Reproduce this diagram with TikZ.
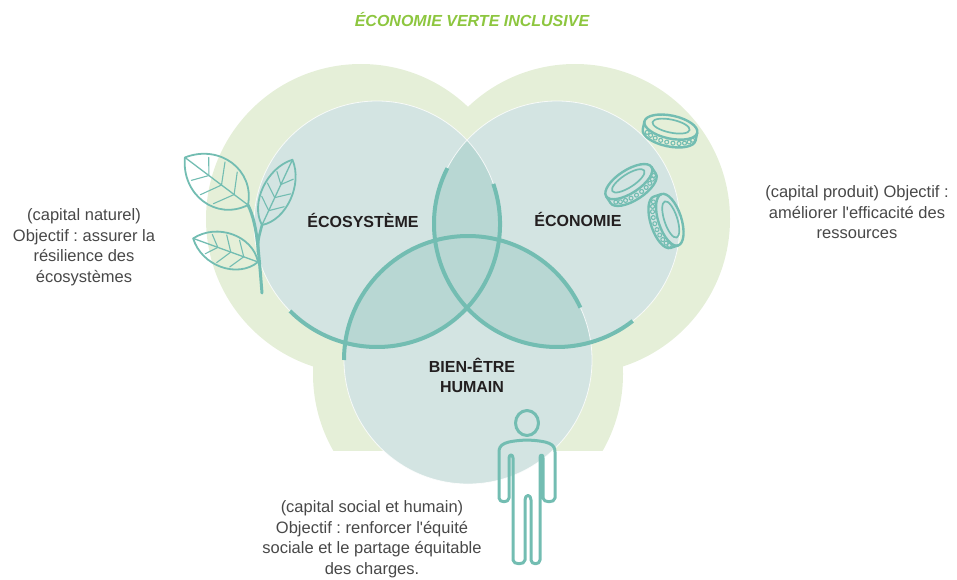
\documentclass[tikz,border=0pt]{standalone}
\usepackage{fontspec}
\setmainfont{Liberation Sans}[Ligatures=TeXOff]
\frenchspacing
\definecolor{bggreen}{HTML}{E5EFD8}
\definecolor{venncol}{HTML}{D3E4E2}
\definecolor{venntwo}{HTML}{B8D7D3}
\definecolor{vennthree}{HTML}{A6CFCA}
\definecolor{arcteal}{HTML}{73BDB2}
\definecolor{titlegreen}{HTML}{8DC63F}
\definecolor{labeltext}{HTML}{231F20}
\definecolor{bodytext}{HTML}{484848}
\tikzset{
  rim/.style={draw=arcteal, line width=4pt},
  sketch/.style={draw=arcteal, line width=2.4pt, line cap=round, line join=round},
  biglabel/.style={font=\bfseries\fontsize{16}{20}\selectfont, text=labeltext, align=center, inner sep=0pt},
  note/.style={font=\fontsize{16.5}{20.5}\selectfont, text=bodytext, align=center},
  heading/.style={font=\bfseries\itshape\fontsize{16}{20}\selectfont, text=titlegreen},
  % leaf: length, half width
  pics/leaf/.style n args={2}{code={
    \draw[sketch, line width=1.8pt] (0,0) .. controls (0.2*#1,-#2) and (0.75*#1,-#2) .. (#1,0)
      .. controls (0.75*#1,#2) and (0.2*#1,#2) .. (0,0);
    \draw[sketch, line width=1.3pt] (0,0) -- (#1,0);
    \foreach \t/\h in {0.22/0.62,0.42/0.64,0.62/0.45}
      \draw[sketch, line width=1.1pt] (\t*#1,0) -- ++(0.14*#1,-\h*#2)
        (\t*#1,0) -- ++(0.14*#1,\h*#2);
  }},
  pics/coin/.style={code={
    \draw[sketch] (-27,-4) -- (-27,4) arc[start angle=180, end angle=0, x radius=27, y radius=11.5] -- (27,-4);
    \draw[sketch] (0,-4) ellipse[x radius=27, y radius=11.5];
    \draw[sketch, line width=1.7pt] (0,-5) ellipse[x radius=19, y radius=6.5];
    \foreach \a in {22,36,...,160}
      \draw[sketch, line width=1.1pt] ({26*cos(\a)},{11.5*sin(\a)}) circle[radius=2];
  }}
}

\begin{document}
\begin{tikzpicture}[x=1pt,y=-1pt]
  \useasboundingbox (0,0) rectangle (957,580);

  \newcommand\R{123}
  \newcommand\Rb{124}

  % green background
  \fill[bggreen] (361,219) circle[radius=155] (575,219) circle[radius=155];
  \begin{scope}
    \clip (0,0) rectangle (957,450);
    \fill[bggreen] (468,374) circle[radius=155];
  \end{scope}

  \coordinate (eco) at (377,224);
  \coordinate (econ) at (557,224);
  \coordinate (bien) at (468,360);

  % the three sets and their overlaps
  \fill[venncol] (eco) circle[radius=\R] (econ) circle[radius=\R] (bien) circle[radius=\Rb];
  \begin{scope}
    \clip (eco) circle[radius=\R];
    \fill[venntwo] (econ) circle[radius=\R] (bien) circle[radius=\Rb];
    \clip (econ) circle[radius=\R];
    \fill[vennthree] (bien) circle[radius=\Rb];
  \end{scope}
  \begin{scope}
    \clip (econ) circle[radius=\R];
    \fill[venntwo] (bien) circle[radius=\Rb];
  \end{scope}
  \draw[white, line width=0.8pt, opacity=0.8]
    (eco) circle[radius=\R] (econ) circle[radius=\R] (bien) circle[radius=\Rb];

  \draw[rim] (eco) ++(-19:\R) arc[start angle=-19, end angle=135, radius=\R];
  \draw[rim] (econ) ++(207:\R) arc[start angle=207, end angle=52, radius=\R];
  \draw[rim] (bien) ++(180:\Rb) arc[start angle=180, end angle=335, radius=\Rb];

  % plant
  \draw[sketch, line width=3pt] (262,293) .. controls (260,268) .. (258,247)
    .. controls (256,228) and (253,215) .. (248,205);
  \draw[sketch, line width=2.6pt] (258,252) .. controls (258,240) .. (262,225);
  \pic[rotate=143] at (248,205) {leaf={79}{32}};
  \pic[rotate=65] at (262,225) {leaf={72}{20}};
  \pic[rotate=160] at (258,262) {leaf={69}{23}};

  % coins
  \pic[rotate=-12] at (670,131) {coin};
  \pic[rotate=33] at (631,185) {coin};
  \pic[rotate=-72] at (666,221) {coin};

  % person
  \draw[sketch, line width=3pt] (527,423) ellipse[x radius=11.5, y radius=12.5];
  \draw[sketch, line width=3pt] (499,498) -- (499,452)
    .. controls (499,444) and (505,441) .. (527,440)
    .. controls (549,441) and (555,444) .. (555,452) -- (555,498)
    .. controls (555,503) and (543,503) .. (543,498) -- (543,458)
    .. controls (543,454) and (540,454) .. (540,458) -- (540,560)
    .. controls (540,565) and (531,565) .. (531,560) -- (531,500)
    .. controls (531,494) and (525,494) .. (525,500) -- (525,560)
    .. controls (525,565) and (513,565) .. (513,560) -- (513,458)
    .. controls (513,454) and (509,454) .. (509,458) -- (509,498)
    .. controls (509,503) and (499,503) .. cycle;

  % texts
  \node[heading, anchor=base] (title) at (472,27) {ÉCONOMIE VERTE INCLUSIVE};
  \node[biglabel, anchor=base] (ecosys) at (363,227) {ÉCOSYSTÈME};
  \node[biglabel, anchor=base] (economy) at (578,226) {ÉCONOMIE};
  \node[biglabel] (wellbeing) at (472,375) {BIEN-ÊTRE\\HUMAIN};

  \node[note] (natural) at (84,247)
    {(capital naturel)\\Objectif : assurer la\\résilience des\\écosystèmes};
  \node[note] (produced) at (857,212.5)
    {(capital produit) Objectif :\\améliorer l'efficacité des\\ressources};
  \node[note] (social) at (372,539)
    {(capital social et humain)\\Objectif : renforcer l'équité\\sociale et le partage équitable\\des charges.};
\end{tikzpicture}
\end{document}
